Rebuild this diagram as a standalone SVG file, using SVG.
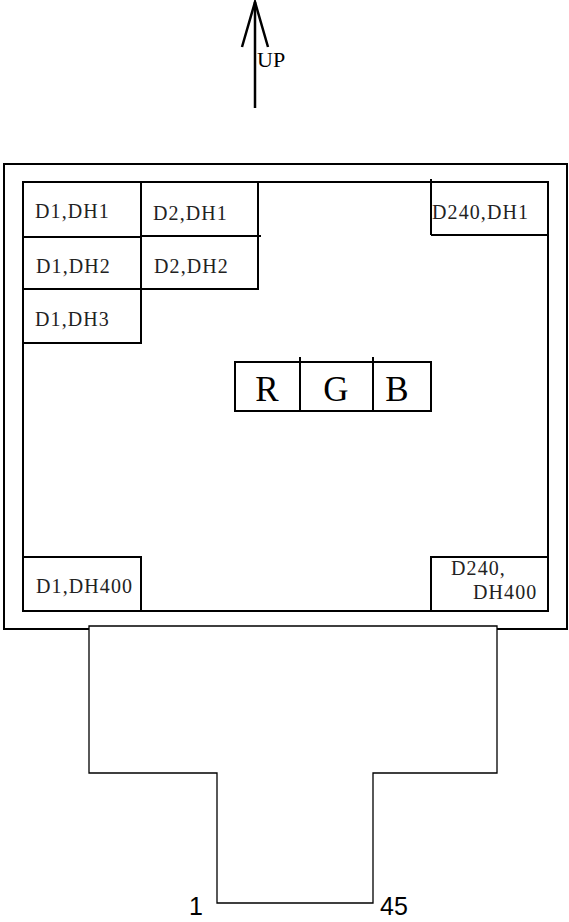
<svg xmlns="http://www.w3.org/2000/svg" width="569" height="922" viewBox="0 0 569 922">
<style>
.ln{fill:none;stroke:#000;stroke-width:2}
.cell{font-family:"Liberation Serif","Times New Roman",serif;font-size:20px;fill:#222;letter-spacing:1.1px}
.rgb{font-family:"Liberation Serif","Times New Roman",serif;font-size:35px;fill:#000}
.num{font-family:"Liberation Sans",Arial,sans-serif;font-size:25px;fill:#000}
</style>
<rect width="569" height="922" fill="#fff"/>
<g id="up-arrow">
<line x1="255" y1="2" x2="255" y2="108" stroke="#000" stroke-width="2.5"/>
<polyline points="242,47 255,2 268,47" fill="none" stroke="#000" stroke-width="2.5"/>
<text x="257" y="67" font-family="Liberation Serif,serif" font-size="22" fill="#000">UP</text>
</g>
<g id="frame">
<rect class="ln" x="4" y="164" width="563" height="465"/>
<rect class="ln" x="23" y="182" width="525" height="429"/>
</g>
<g id="cells">
<g id="d1dh1"><rect class="ln" x="23" y="182" width="118" height="55"/><text class="cell" x="35" y="218">D1,DH1</text></g>
<g id="d2dh1"><polyline class="ln" points="141,182 258,182 258,237"/><line class="ln" x1="141" y1="236" x2="261" y2="236"/><text class="cell" x="153" y="220">D2,DH1</text></g>
<g id="d1dh2"><rect class="ln" x="23" y="237" width="118" height="52"/><text class="cell" x="36" y="273">D1,DH2</text></g>
<g id="d2dh2"><polyline class="ln" points="141,289 258,289 258,236"/><text class="cell" x="154" y="273">D2,DH2</text></g>
<g id="d1dh3"><rect class="ln" x="23" y="289" width="118" height="54"/><text class="cell" x="35" y="326">D1,DH3</text></g>
<g id="d240dh1"><line class="ln" x1="431" y1="179" x2="431" y2="235"/><line class="ln" x1="431" y1="235" x2="548" y2="235"/><text class="cell" x="432" y="219">D240,DH1</text></g>
<g id="d1dh400"><rect class="ln" x="23" y="557" width="118" height="54"/><text class="cell" x="36" y="593">D1,DH400</text></g>
<g id="d240dh400"><rect class="ln" x="431" y="557" width="117" height="54"/><text class="cell" x="451" y="575">D240,</text><text class="cell" x="473" y="599">DH400</text></g>
</g>
<g id="rgb">
<rect class="ln" x="235" y="362" width="196" height="49"/>
<line class="ln" x1="300" y1="357" x2="300" y2="411"/>
<line class="ln" x1="373" y1="357" x2="373" y2="411"/>
<text class="rgb" x="267" y="401" text-anchor="middle">R</text>
<text class="rgb" x="336" y="401" text-anchor="middle">G</text>
<text class="rgb" x="397" y="401" text-anchor="middle">B</text>
</g>
<g id="fpc">
<polygon points="89,626 497,626 497,773 373,773 373,903 217,903 217,773 89,773" fill="#fff" stroke="#000" stroke-width="1.3"/>
<text class="num" x="189" y="915">1</text>
<text class="num" x="380" y="915">45</text>
</g>
</svg>
